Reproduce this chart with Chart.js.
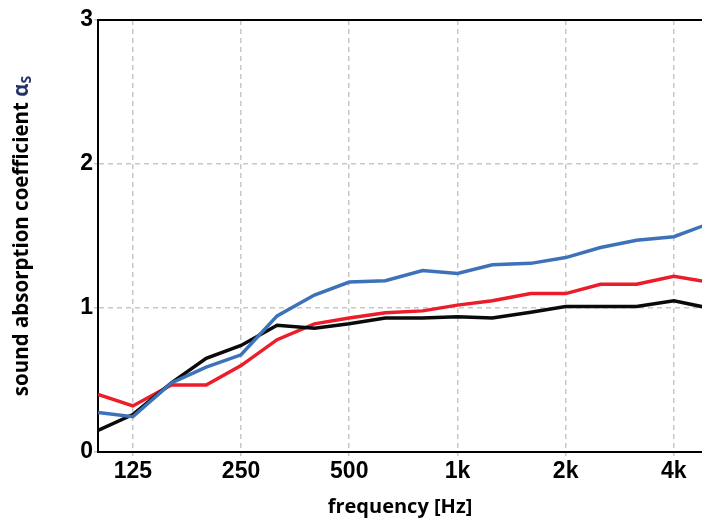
<!DOCTYPE html>
<html>
<head>
<meta charset="utf-8">
<script src="https://cdn.jsdelivr.net/npm/chart.js@4.4.1/dist/chart.umd.min.js"></script>
<style>
  html, body { margin: 0; padding: 0; background: #fff; }
</style>
</head>
<body>
<canvas id="myChart" width="702" height="519"></canvas>
<script>
// third-octave band centres [Hz]
const freqs = [100, 125, 160, 200, 250, 315, 400, 500, 630, 800, 1000, 1250, 1600, 2000, 2500, 3150, 4000, 5000];
const blueValues = [0.275, 0.245, 0.48, 0.59, 0.675, 0.945, 1.09, 1.18, 1.19, 1.26, 1.24, 1.30, 1.31, 1.35, 1.42, 1.47, 1.495, 1.585];
const blackValues = [0.15, 0.26, 0.48, 0.65, 0.74, 0.88, 0.86, 0.89, 0.93, 0.93, 0.94, 0.93, 0.97, 1.01, 1.01, 1.01, 1.05, 1.0];
const redValues = [0.40, 0.32, 0.465, 0.465, 0.60, 0.78, 0.89, 0.93, 0.967, 0.98, 1.02, 1.05, 1.10, 1.10, 1.165, 1.165, 1.22, 1.18];
const xTicks = [125, 250, 500, 1000, 2000, 4000];
const xTickLabels = ["125", "250", "500", "1k", "2k", "4k"];
const yTicks = [0, 1, 2, 3];

const toPoints = (vals) => freqs.map((f, i) => ({ x: f, y: vals[i] }));

const gridGrey = "#c8c8c8";

// top frame line + y title with subscript
const framePlugin = {
  id: "frame",
  afterDraw(chart) {
    const { ctx, chartArea } = chart;
    ctx.save();
    ctx.strokeStyle = "#000";
    ctx.lineWidth = 2;
    ctx.beginPath();
    ctx.moveTo(chartArea.left - 1, chartArea.top);
    ctx.lineTo(chartArea.right, chartArea.top);
    ctx.stroke();

    const main = "sound absorption coefficient ";
    const alpha = "α";
    const sub = "S";
    const font = "bold 20.5px 'Open Sans'";
    const subFont = "bold 14px 'Open Sans'";
    ctx.font = font;
    const w1 = ctx.measureText(main).width;
    const w2 = ctx.measureText(alpha).width;
    ctx.font = subFont;
    const w3 = ctx.measureText(sub).width;
    const total = w1 + w2 + w3;
    const cy = (chartArea.top + chartArea.bottom) / 2;
    ctx.translate(22, cy);
    ctx.rotate(-Math.PI / 2);
    ctx.textBaseline = "middle";
    ctx.textAlign = "left";
    let x = -total / 2;
    ctx.font = font;
    ctx.fillStyle = "#000";
    ctx.fillText(main, x, 0);
    x += w1;
    ctx.fillStyle = "#24306a";
    ctx.fillText(alpha, x, 0);
    x += w2;
    ctx.font = subFont;
    ctx.fillText(sub, x, 5);
    ctx.restore();
  },
};

new Chart(document.getElementById("myChart"), {
  type: "line",
  data: {
    datasets: [
      { label: "blue", data: toPoints(blueValues), borderColor: "#3d72b9" },
      { label: "black", data: toPoints(blackValues), borderColor: "#0a0a0a" },
      { label: "red", data: toPoints(redValues), borderColor: "#ec1c2a" },
    ],
  },
  options: {
    responsive: false,
    animation: false,
    devicePixelRatio: 1,
    layout: { padding: { top: 20, right: 0, left: 0, bottom: 0 } },
    elements: {
      line: { borderWidth: 3.5, tension: 0, fill: false },
      point: { radius: 0 },
    },
    plugins: { legend: { display: false }, tooltip: { enabled: false } },
    scales: {
      x: {
        type: "logarithmic",
        min: 100,
        max: 4790,
        afterBuildTicks: (scale) => {
          scale.ticks = xTicks.map((v) => ({ value: v }));
        },
        afterFit: (scale) => {
          scale.height = 67;
        },
        ticks: {
          autoSkip: false,
          maxRotation: 0,
          padding: 2,
          color: "#000",
          font: { family: "'Liberation Sans', Arial", size: 23, weight: "bold" },
          callback: (val) => {
            const i = xTicks.indexOf(val);
            return i >= 0 ? xTickLabels[i] : "";
          },
        },
        grid: {
          color: gridGrey,
          lineWidth: 1.5,
          tickLength: 4,
          tickColor: gridGrey,
        },
        border: { color: "#000", width: 2, dash: [5, 4] },
        title: {
          display: true,
          text: "frequency [Hz]",
          color: "#000",
          font: { family: "'Open Sans'", size: 20, weight: "bold" },
          padding: { top: 0, bottom: 0 },
        },
      },
      y: {
        min: 0,
        max: 3,
        afterBuildTicks: (scale) => {
          scale.ticks = yTicks.map((v) => ({ value: v }));
        },
        afterFit: (scale) => {
          scale.width = 98;
        },
        ticks: {
          padding: 1,
          color: "#000",
          font: { family: "'Liberation Sans', Arial", size: 23, weight: "bold" },
        },
        grid: {
          color: (ctx) => (ctx.tick && (ctx.tick.value === 0 || ctx.tick.value === 3) ? "rgba(0,0,0,0)" : gridGrey),
          lineWidth: 1.5,
          tickLength: 4,
          tickColor: gridGrey,
        },
        border: { color: "#000", width: 2, dash: [5, 4] },
      },
    },
  },
  plugins: [framePlugin],
});
</script>
</body>
</html>
